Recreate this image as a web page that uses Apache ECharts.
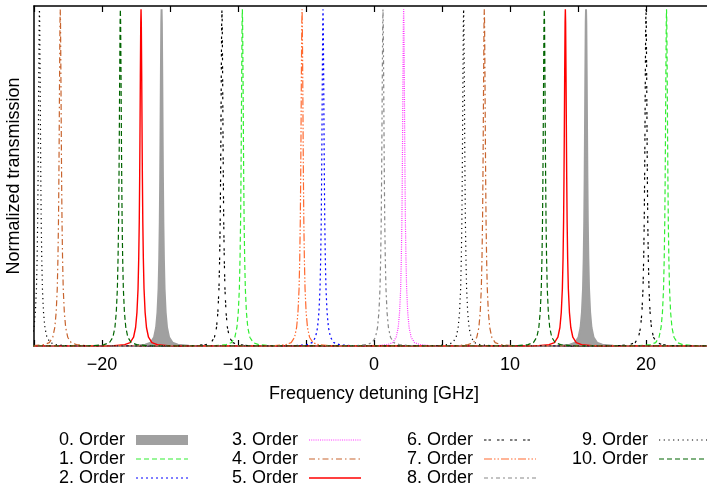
<!DOCTYPE html>
<html>
<head>
<meta charset="utf-8">
<script src="https://cdn.jsdelivr.net/npm/echarts@6/dist/echarts.min.js"></script>
<style>
  html, body { margin: 0; padding: 0; background: #fff; overflow: hidden; }
  #chart { width: 720px; height: 489px; }
</style>
</head>
<body>
<div id="chart"></div>
<script>
// Transmission resonances of each diffraction order, frequency detuning in GHz.
const orderNames = ['0. Order', '1. Order', '2. Order', '3. Order', '4. Order', '5. Order',
                    '6. Order', '7. Order', '8. Order', '9. Order', '10. Order'];

// Resonance centres [GHz] for every order inside the plotted window.
const peaks0  = [-15.62, 15.59];
const peaks1  = [-9.68, 21.51];
const peaks2  = [-3.75];
const peaks3  = [2.18];
const peaks4  = [-23.07, 8.11];
const peaks5  = [-17.13, 14.07];
const peaks6  = [-11.18, 20.0];
const peaks7  = [-5.29];
const peaks8  = [0.66];
const peaks9  = [-24.6, 6.59];
const peaks10 = [-18.65, 12.52];
const peakCenters = [peaks0, peaks1, peaks2, peaks3, peaks4, peaks5,
                     peaks6, peaks7, peaks8, peaks9, peaks10];

// Line shape of a single resonance: offset from centre [GHz] and normalized transmission.
const profileOffset = [0, 0.02, 0.05, 0.08, 0.10, 0.13, 0.17, 0.22, 0.30, 0.40, 0.55, 0.80, 1.20, 2.00, 2.50];
const profileValue  = [1, 0.96, 0.80, 0.61, 0.50, 0.37, 0.26, 0.17, 0.10, 0.055, 0.026, 0.010, 0.004, 0.001, 0];

// Axis ticks
const xMin = -25, xMax = 25, xTickStep = 5, xLabelStep = 10;

// Appearance of each order's curve
const styles = [
  { color: '#a0a0a0', width: 2,   type: 'solid', fill: true },
  { color: '#33ee33', width: 1.2, type: [5, 3] },
  { color: '#0000ff', width: 1.2, type: [2, 3] },
  { color: '#ff33ff', width: 1.2, type: [1, 1.2] },
  { color: '#c8642e', width: 1.2, type: [6, 3, 1.5, 3] },
  { color: '#ff0000', width: 1.4, type: 'solid' },
  { color: '#000000', width: 1.2, type: [2.5, 2, 2.5, 6] },
  { color: '#ff6a30', width: 1.2, type: [8, 2, 1.5, 2, 1.5, 2] },
  { color: '#888888', width: 1.2, type: [4, 3, 2, 3] },
  { color: '#000000', width: 1.2, type: [1.2, 3.5] },
  { color: '#006400', width: 1.2, type: [5, 3] }
];

function buildCurve(centers) {
  const pts = [[xMin - 5, 0], [xMax + 5, 0]];
  centers.forEach(c => {
    for (let k = profileOffset.length - 1; k > 0; k--) pts.push([c - profileOffset[k], profileValue[k]]);
    for (let k = 0; k < profileOffset.length; k++) pts.push([c + profileOffset[k], profileValue[k]]);
  });
  pts.sort((a, b) => a[0] - b[0]);
  return pts;
}

const FONT = '"Liberation Sans", Arial, Helvetica, sans-serif';

const series = orderNames.map((name, i) => {
  const s = styles[i];
  const out = {
    name: name,
    type: 'line',
    data: buildCurve(peakCenters[i]),
    showSymbol: false,
    symbol: 'none',
    animation: false,
    clip: true,
    z: 2 + i,
    lineStyle: { color: s.color, width: s.width, type: s.type },
    itemStyle: { color: s.color }
  };
  if (s.fill) out.areaStyle = { color: s.color, opacity: 1 };
  return out;
});

// Key below the plot: 4 columns, 3 rows, text right-aligned before the line sample
const colTextRight = [125, 298, 473, 648];
const rowY = [440, 459, 478];
const graphic = [];
orderNames.forEach((name, i) => {
  const col = Math.floor(i / 3), row = i % 3;
  const xr = colTextRight[col], y = rowY[row];
  const s = styles[i];
  graphic.push({
    type: 'text', x: xr, y: y,
    style: { text: name, fontSize: 18, fontFamily: FONT, fill: '#000', align: 'right', verticalAlign: 'middle' }
  });
  if (s.fill) {
    graphic.push({ type: 'rect', shape: { x: xr + 11, y: y - 5, width: 52, height: 10 }, style: { fill: s.color } });
  } else {
    graphic.push({
      type: 'line', shape: { x1: xr + 11, y1: y, x2: xr + 63, y2: y },
      style: { stroke: s.color, lineWidth: s.width, lineDash: Array.isArray(s.type) ? s.type : null }
    });
  }
});

const axisLineStyle = { color: '#000', width: 1.5 };

const option = {
  backgroundColor: '#fff',
  animation: false,
  grid: { left: 34, top: 6, right: 6, bottom: 143, containLabel: false, outerBoundsMode: 'none' },
  xAxis: [
    {
      type: 'value', min: xMin, max: xMax, interval: xTickStep,
      position: 'bottom',
      name: 'Frequency detuning [GHz]', nameLocation: 'middle', nameGap: 39,
      nameTextStyle: { fontSize: 18, fontFamily: FONT, color: '#000' },
      axisLine: { show: true, onZero: false, lineStyle: axisLineStyle },
      axisTick: { show: true, inside: true, length: 6, lineStyle: { color: '#000', width: 1.2 } },
      axisLabel: {
        show: true, margin: 10, fontSize: 18, fontFamily: FONT, color: '#000',
        formatter: v => (v % xLabelStep === 0 && v > xMin && v < xMax) ? (v < 0 ? '\u2212' + Math.abs(v) : String(v)) : ''
      },
      splitLine: { show: false }
    },
    {
      type: 'value', min: xMin, max: xMax, interval: xTickStep,
      position: 'top',
      axisLine: { show: true, onZero: false, lineStyle: axisLineStyle },
      axisTick: { show: true, inside: true, length: 6, lineStyle: { color: '#000', width: 1.2 } },
      axisLabel: { show: false },
      splitLine: { show: false }
    }
  ],
  yAxis: {
    type: 'value', min: 0, max: 1.01,
    name: 'Normalized transmission', nameLocation: 'middle', nameGap: 11, nameRotate: 90,
    nameTextStyle: { fontSize: 18, fontFamily: FONT, color: '#000' },
    axisLine: { show: true, onZero: false, lineStyle: axisLineStyle },
    axisTick: { show: false },
    axisLabel: { show: false },
    splitLine: { show: false }
  },
  series: series,
  graphic: graphic
};

const chart = echarts.init(document.getElementById('chart'), null, { renderer: 'canvas' });
chart.setOption(option);
</script>
</body>
</html>
